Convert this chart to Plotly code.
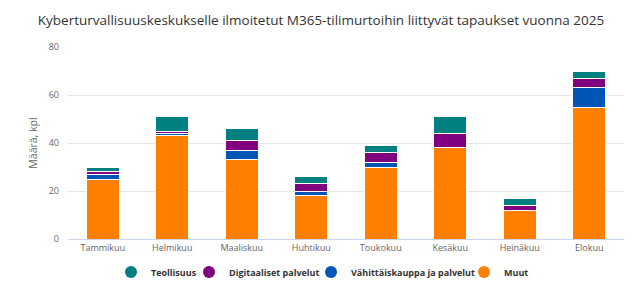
import plotly.graph_objects as go

months = ["Tammikuu", "Helmikuu", "Maaliskuu", "Huhtikuu", "Toukokuu", "Kesäkuu", "Heinäkuu", "Elokuu"]
muut = [25, 43, 33, 18, 30, 38, 12, 55]
vahittais = [2, 1, 4, 2, 2, 0, 0, 8]
digitaaliset = [1, 1, 4, 3, 4, 6, 2, 4]
teollisuus = [2, 6, 5, 3, 3, 7, 3, 3]

series = [
    ("Muut", muut, "#ff8000"),
    ("Vähittäiskauppa ja palvelut", vahittais, "#0055b5"),
    ("Digitaaliset palvelut", digitaaliset, "#800080"),
    ("Teollisuus", teollisuus, "#008080"),
]

W, H = 642, 289
# pixel where each legend symbol sits (legend order: Teollisuus, Digi, Vähittäis, Muut)
legend_sym_x = {"Teollisuus": 131, "Digitaaliset palvelut": 209,
                "Vähittäiskauppa ja palvelut": 331, "Muut": 484}
legend_ids = {"Teollisuus": "legend", "Digitaaliset palvelut": "legend2",
              "Vähittäiskauppa ja palvelut": "legend3", "Muut": "legend4"}

fig = go.Figure()
for name, vals, col in series:
    fig.add_trace(go.Bar(
        x=months, y=vals, name=name, marker=dict(color=col, line=dict(color="white", width=1)),
        showlegend=False, hovertemplate="%{x}<br>" + name + ": %{y}<extra></extra>",
    ))
for name, vals, col in reversed(series):
    fig.add_trace(go.Scatter(
        x=[None], y=[None], mode="markers", name=name, legend=legend_ids[name],
        marker=dict(color=col, size=9, symbol="circle"), showlegend=True,
    ))

legend_common = dict(
    orientation="h", xref="container", yref="container", xanchor="left",
    y=1 - 272 / H, yanchor="middle", bgcolor="rgba(0,0,0,0)",
    font=dict(size=9, color="#333333", family="Open Sans, sans-serif", weight="bold"),
    itemsizing="constant",
)
legends = {}
for name, lid in legend_ids.items():
    legends[lid] = dict(legend_common, x=(legend_sym_x[name] - 20) / W)

fig.update_layout(
    barmode="stack",
    bargap=0.52,
    width=W, height=H,
    margin=dict(l=68, r=18, t=47, b=50, autoexpand=False),
    paper_bgcolor="white", plot_bgcolor="white",
    font=dict(family="Open Sans, sans-serif", color="#666666"),
    title=dict(
        text="Kyberturvallisuuskeskukselle ilmoitetut M365-tilimurtoihin liittyvät tapaukset vuonna 2025",
        x=0.5, xref="container", xanchor="center", y=1 - 20 / H, yanchor="middle",
        font=dict(size=13.5, color="#333333", family="Open Sans, sans-serif"),
    ),
    xaxis=dict(
        showgrid=False, showline=True, linecolor="#ccd6eb", linewidth=1,
        ticks="", tickfont=dict(size=9, color="#666666"), tickangle=0,
    ),
    yaxis=dict(
        range=[0, 80], dtick=20, showgrid=True, gridcolor="#e6e6e6", gridwidth=1,
        zeroline=False, tickfont=dict(size=9, color="#666666"), ticklabelstandoff=8,
        title=dict(text="Määrä, kpl", font=dict(size=10.5, color="#666666"), standoff=9),
    ),
    **legends,
)

fig.write_html("out.html")
